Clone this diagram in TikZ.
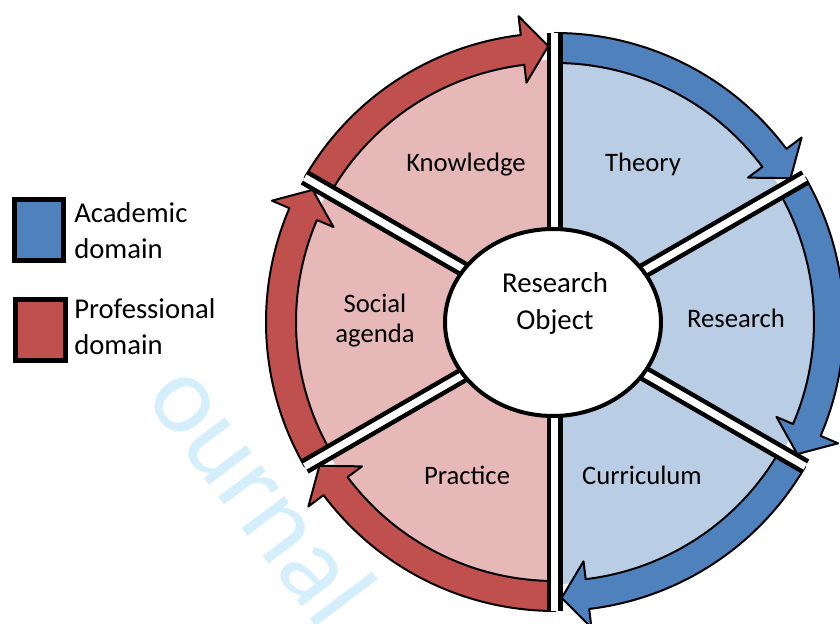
\documentclass[tikz,border=0pt]{standalone}
\usepackage{fontspec}
\setmainfont{Carlito}
\definecolor{acadblue}{RGB}{79,129,189}
\definecolor{profred}{RGB}{192,80,77}
\definecolor{acadlight}{RGB}{185,205,229}
\definecolor{proflight}{RGB}{230,185,184}
\definecolor{markcyan}{RGB}{212,239,251}
\tikzset{
  acadband/.style={fill=acadblue, draw=black, line width=1.5pt, line join=round},
  profband/.style={fill=profred, draw=black, line width=1.5pt, line join=round},
  divider/.style={draw=black, line width=3.4pt, double=white, double distance=5.25pt},
  sectorlabel/.style={font=\fontsize{20}{22.5}\selectfont, anchor=base, inner sep=0pt},
  legendlabel/.style={font=\fontsize{21.5}{27}\selectfont, anchor=base west, inner sep=0pt},
}
\begin{document}
\begin{tikzpicture}[x=0.75pt,y=0.75pt]
\useasboundingbox (-555,-302) rectangle (285,322);

% watermark behind everything
\draw (-292,-170) node[rotate=-53, text=markcyan, font=\fontsize{84}{84}\selectfont] (mark) {ournal};

% the six sectors
\fill[proflight] (0,0) -- (90:262) arc (90:270:262) -- cycle;
\fill[acadlight] (0,0) -- (-90:262) arc (-90:90:262) -- cycle;

% professional domain arrows
\draw[profband] (270:259) arc (270:216.8:259) -- (216.8:241) -- (211.4:276) -- (216.8:308) -- (216.8:289) arc (216.8:270:289) -- cycle;
\draw[profband] (210:259) arc (210:156.8:259) -- (156.8:241) -- (151.4:276) -- (156.8:308) -- (156.8:289) arc (156.8:210:289) -- cycle;
\draw[profband] (150:259) arc (150:96.8:259) -- (96.8:241) -- (91.4:276) -- (96.8:308) -- (96.8:289) arc (96.8:150:289) -- cycle;

% academic domain arrows
\draw[acadband] (90:259) arc (90:36.8:259) -- (36.8:241) -- (31.4:276) -- (36.8:308) -- (36.8:289) arc (36.8:90:289) -- cycle;
\draw[acadband] (30:259) arc (30:-23.2:259) -- (-23.2:241) -- (-28.6:276) -- (-23.2:308) -- (-23.2:289) arc (-23.2:30:289) -- cycle;
\draw[acadband] (-30:259) arc (-30:-83.2:259) -- (-83.2:241) -- (-88.6:276) -- (-83.2:308) -- (-83.2:289) arc (-83.2:-30:289) -- cycle;

% gaps between the sectors
\draw[divider] (0,0) -- (90:289);
\draw[divider] (0,0) -- (150:289);
\draw[divider] (0,0) -- (210:289);
\draw[divider] (0,0) -- (270:289);
\draw[divider] (0,0) -- (330:289);
\draw[divider] (0,0) -- (30:289);

% centre
\draw[line width=3pt, fill=white] (-2,-0.5) ellipse (108 and 93.5);
\draw (0,-8) node[anchor=base, align=center, inner sep=0pt, font=\fontsize{21.6}{27.75}\selectfont] (object) {Research\\Object};

% sector labels
\draw (-89,150) node[sectorlabel] (knowledge) {Knowledge};
\draw (88,150) node[sectorlabel] (theory) {Theory};
\draw (181,-6) node[sectorlabel] (research) {Research};
\draw (87,-163) node[sectorlabel] (curriculum) {Curriculum};
\draw (-88,-163) node[sectorlabel] (practice) {Practice};
\draw (-180,-21) node[sectorlabel, align=center] (social) {Social\\agenda};

% legend
\draw[line width=3.75pt, fill=acadblue] (-540.5,122.5) rectangle (-491.5,61.5);
\draw[line width=3.75pt, fill=profred] (-539.5,22.5) rectangle (-489.5,-38.5);
\draw (-481,63) node[legendlabel, align=left] (acadkey) {Academic\\domain};
\draw (-481,-33) node[legendlabel, align=left] (profkey) {Professional\\domain};

\end{tikzpicture}
\end{document}
